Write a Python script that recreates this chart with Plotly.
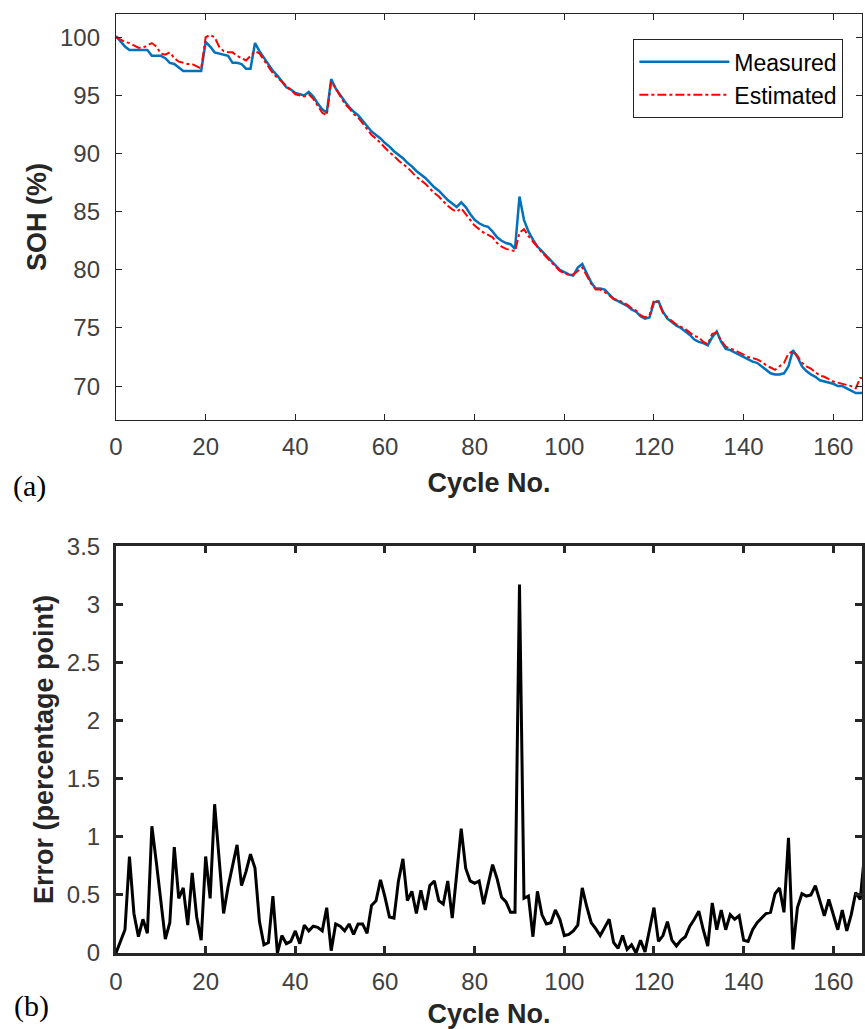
import plotly.graph_objects as go

cycles = list(range(0, 168))

measured = [
    100.1, 99.6, 99.2, 98.9, 98.9, 98.9, 98.9, 98.9, 98.4, 98.4,
    98.4, 98.2, 97.8, 97.7, 97.4, 97.1, 97.1, 97.1, 97.1, 97.1,
    99.6, 99.2, 98.7, 98.6, 98.5, 98.4, 97.8, 97.8, 97.7, 97.3,
    97.3, 99.5, 98.8, 98.2, 97.6, 97.1, 96.7, 96.2, 95.7, 95.5,
    95.2, 95.1, 95.0, 95.3, 94.9, 94.3, 93.8, 93.5, 96.4, 95.6,
    95.0, 94.5, 94.0, 93.6, 93.3, 92.8, 92.3, 91.9, 91.6, 91.3,
    90.9, 90.6, 90.2, 89.9, 89.6, 89.2, 88.9, 88.5, 88.2, 87.9,
    87.5, 87.1, 86.8, 86.4, 86.0, 85.7, 85.4, 85.8, 85.4, 84.8,
    84.3, 84.0, 83.8, 83.7, 83.3, 82.8, 82.5, 82.3, 82.2, 81.8,
    86.3, 84.3, 83.3, 82.6, 82.0, 81.6, 81.2, 80.8, 80.4, 80.0,
    79.8, 79.6, 79.5, 80.2, 80.5, 79.7, 78.9, 78.4, 78.4, 78.3,
    77.9, 77.5, 77.3, 77.1, 76.9, 76.6, 76.4, 76.0, 75.8, 75.9,
    77.2, 77.3, 76.4, 75.8, 75.5, 75.2, 75.0, 74.7, 74.4, 74.0,
    73.8, 73.7, 73.5, 74.2, 74.7, 73.8, 73.2, 73.1, 72.9, 72.7,
    72.5, 72.3, 72.1, 72.0, 71.7, 71.4, 71.1, 71.0, 71.0, 71.1,
    71.7, 73.1, 72.5, 71.7, 71.3, 71.0, 70.8, 70.5, 70.4, 70.3,
    70.2, 70.0, 70.0, 69.8, 69.6, 69.4, 69.4, 69.4,
]

estimated = [
    100.0, 99.8, 99.6, 99.5, 99.3, 99.1, 99.1, 99.3, 99.5, 99.2,
    98.6, 98.5, 98.7, 98.2, 97.9, 97.8, 97.7, 97.7, 97.5, 97.3,
    100.0, 100.2, 100.0, 99.2, 98.8, 98.7, 98.7, 98.4, 98.2, 98.0,
    98.4, 98.8, 98.6, 98.0, 97.4, 96.9, 96.5, 96.2, 95.8, 95.5,
    95.1, 95.0, 94.9, 95.1, 94.7, 94.1, 93.5, 93.3, 96.2, 95.6,
    94.9, 94.3, 93.9, 93.4, 93.1, 92.6, 92.1, 91.6, 91.3, 90.9,
    90.5, 90.1, 89.8, 89.4, 89.1, 88.8, 88.4, 88.0, 87.7, 87.4,
    87.0, 86.6, 86.3, 85.9, 85.5, 85.2, 85.0, 85.3, 84.8, 84.3,
    83.8, 83.5, 83.2, 83.0, 82.8, 82.3, 82.0, 81.8, 81.7, 81.6,
    83.2, 83.5, 82.9, 82.4, 82.0, 81.5, 81.1, 80.7, 80.3, 79.9,
    79.7, 79.6, 79.6, 79.9, 80.2, 79.5, 78.8, 78.3, 78.3, 78.1,
    77.8, 77.5, 77.4, 77.2, 77.0, 76.7, 76.5, 76.1, 75.9, 76.1,
    77.4, 77.2, 76.3, 75.9, 75.6, 75.3, 75.1, 74.9, 74.6, 74.3,
    74.2, 73.8, 73.6, 74.5, 74.6, 73.9, 73.4, 73.2, 73.1, 72.9,
    72.7, 72.5, 72.4, 72.3, 72.1, 71.8, 71.6, 71.4, 71.7, 72.0,
    72.8, 73.0, 72.6, 72.0, 71.7, 71.5, 71.2, 70.9, 70.8, 70.6,
    70.4, 70.3, 70.2, 70.1, 70.0, 69.8, 70.7, 70.7,
]

error = [
    0.00, 0.10, 0.20, 0.83, 0.34, 0.14, 0.29, 0.17, 1.09, 0.78,
    0.45, 0.12, 0.26, 0.91, 0.47, 0.56, 0.24, 0.69, 0.31, 0.11,
    0.83, 0.47, 1.28, 0.80, 0.34, 0.57, 0.75, 0.93, 0.58, 0.70,
    0.85, 0.73, 0.27, 0.07, 0.09, 0.49, 0.00, 0.15, 0.08, 0.10,
    0.19, 0.08, 0.24, 0.19, 0.23, 0.22, 0.19, 0.39, 0.02, 0.25,
    0.23, 0.19, 0.25, 0.16, 0.25, 0.25, 0.17, 0.41, 0.45, 0.63,
    0.48, 0.31, 0.30, 0.62, 0.81, 0.45, 0.53, 0.34, 0.54, 0.37,
    0.58, 0.62, 0.45, 0.42, 0.62, 0.30, 0.68, 1.07, 0.73, 0.62,
    0.60, 0.62, 0.42, 0.59, 0.76, 0.64, 0.48, 0.44, 0.35, 0.35,
    3.17, 0.47, 0.49, 0.14, 0.53, 0.33, 0.25, 0.26, 0.37, 0.29,
    0.15, 0.16, 0.19, 0.24, 0.56, 0.40, 0.26, 0.21, 0.15, 0.22,
    0.29, 0.09, 0.04, 0.15, 0.03, 0.07, 0.00, 0.11, 0.01, 0.20,
    0.39, 0.10, 0.15, 0.27, 0.11, 0.06, 0.11, 0.14, 0.23, 0.29,
    0.36, 0.20, 0.06, 0.43, 0.20, 0.37, 0.20, 0.33, 0.29, 0.32,
    0.11, 0.10, 0.20, 0.26, 0.30, 0.34, 0.35, 0.51, 0.56, 0.35,
    0.99, 0.03, 0.39, 0.51, 0.49, 0.50, 0.58, 0.45, 0.32, 0.46,
    0.33, 0.20, 0.37, 0.19, 0.33, 0.52, 0.46, 0.86,
]

x_ticks = [0, 20, 40, 60, 80, 100, 120, 140, 160]
soh_ticks = [70, 75, 80, 85, 90, 95, 100]
err_ticks = [0, 0.5, 1, 1.5, 2, 2.5, 3, 3.5]
err_tick_text = ["0", "0.5", "1", "1.5", "2", "2.5", "3", "3.5"]

AX = "#262626"
TICKC = "#404040"
SANS = "Liberation Sans, Arial, sans-serif"
SERIF = "Liberation Serif, DejaVu Serif, serif"

fig = go.Figure()
fig.add_trace(go.Scatter(x=cycles, y=measured, mode="lines", name="Measured",
                         line=dict(color="#0072BD", width=2.5),
                         xaxis="x", yaxis="y"))
fig.add_trace(go.Scatter(x=cycles, y=estimated, mode="lines", name="Estimated",
                         line=dict(color="#FF0000", width=2, dash="dashdot"),
                         xaxis="x", yaxis="y"))
fig.add_trace(go.Scatter(x=cycles, y=error, mode="lines", name="Error",
                         line=dict(color="#000000", width=3),
                         showlegend=False, xaxis="x2", yaxis="y2"))

common_x = dict(range=[0, 166.4], tickvals=x_ticks, ticks="inside",
                showgrid=False, zeroline=False, showline=True, mirror="ticks",
                linecolor=AX, tickcolor=AX,
                tickfont=dict(family=SANS, size=24, color=TICKC))

fig.update_layout(
    width=865, height=1029,
    margin=dict(l=116, r=0, t=12, b=76),
    paper_bgcolor="white", plot_bgcolor="white",
    xaxis=dict(common_x, domain=[0, 1], anchor="y", linewidth=1.3, tickwidth=1.3,
               ticklen=6, ticklabelstandoff=5,
               title=dict(text="<b>Cycle No.</b>", standoff=14,
                          font=dict(family=SANS, size=27, color=AX))),
    yaxis=dict(domain=[0.5678, 1], anchor="x", range=[67.1, 102],
               tickvals=soh_ticks, ticks="inside", ticklen=6, tickwidth=1.3,
               linewidth=1.3, showgrid=False, zeroline=False, showline=True,
               mirror="ticks", linecolor=AX, tickcolor=AX, ticklabelstandoff=10,
               tickfont=dict(family=SANS, size=24, color=TICKC),
               title=dict(text="<b>SOH (%)</b>", standoff=5,
                          font=dict(family=SANS, size=27, color=AX))),
    xaxis2=dict(common_x, domain=[0, 1], anchor="y2", linewidth=3, tickwidth=3,
                ticklen=7, ticklabelstandoff=5,
                title=dict(text="<b>Cycle No.</b>", standoff=11,
                           font=dict(family=SANS, size=27, color=AX))),
    yaxis2=dict(domain=[0, 0.4333], anchor="x2", range=[0, 3.5],
                tickvals=err_ticks, ticktext=err_tick_text, ticks="inside",
                ticklen=7, tickwidth=3, linewidth=3, showgrid=False,
                zeroline=False, showline=True, mirror="ticks", linecolor=AX,
                tickcolor=AX, ticklabelstandoff=8,
                tickfont=dict(family=SANS, size=24, color=TICKC),
                title=dict(text="<b>Error (percentage point)</b>", standoff=6,
                           font=dict(family=SANS, size=27, color=AX))),
    legend=dict(x=0.9746, y=0.9734, xanchor="right", yanchor="top",
                bgcolor="white", bordercolor=AX, borderwidth=1.3,
                font=dict(family=SANS, size=23, color="#000000"),
                itemwidth=90, tracegroupgap=0),
    showlegend=True,
    annotations=[
        dict(text="(a)", xref="paper", yref="paper", showarrow=False,
             x=(29 - 116) / 749, y=(953 - 485) / 941,
             xanchor="center", yanchor="middle",
             font=dict(family=SERIF, size=30, color="#000000")),
        dict(text="(b)", xref="paper", yref="paper", showarrow=False,
             x=(31 - 116) / 749, y=(953 - 1006) / 941,
             xanchor="center", yanchor="middle",
             font=dict(family=SERIF, size=30, color="#000000")),
    ],
)

fig.write_html("out.html")
